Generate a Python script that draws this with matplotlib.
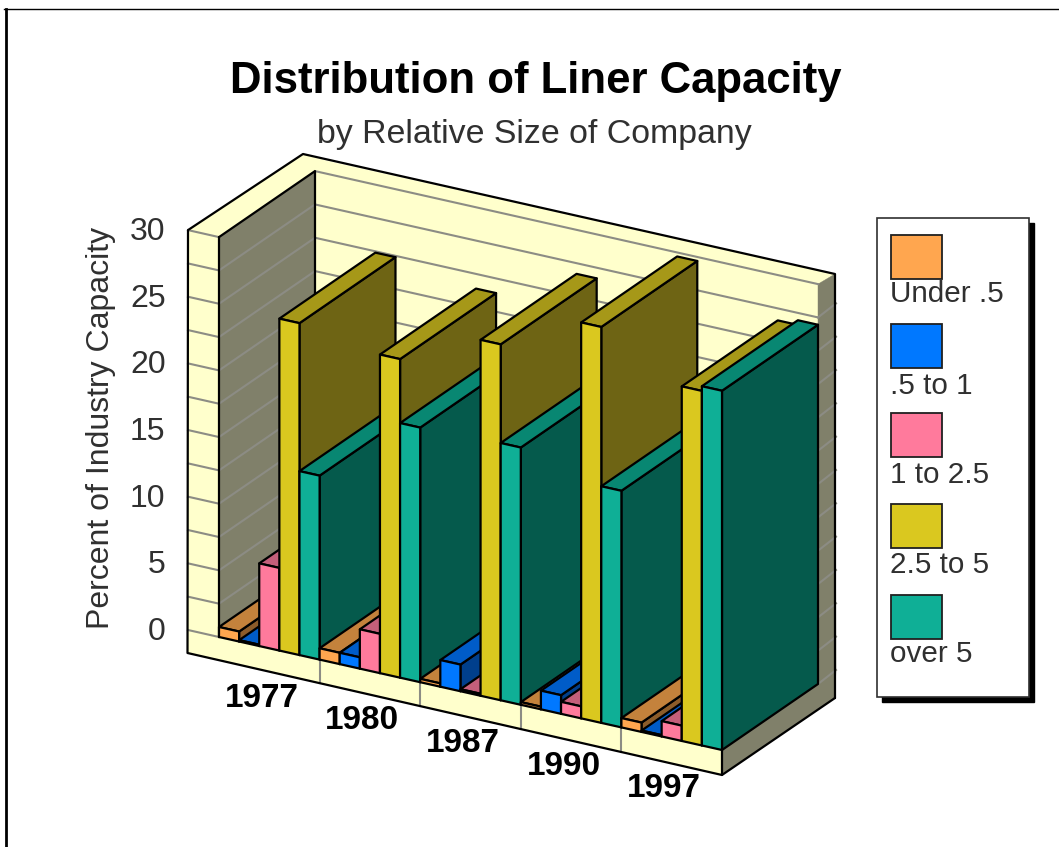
import matplotlib
matplotlib.use("Agg")
import matplotlib.pyplot as plt
from matplotlib.patches import Polygon, Rectangle

plt.rcParams["font.family"] = ["Liberation Sans", "DejaVu Sans"]

# chart data
years = ["1977", "1980", "1987", "1990", "1997"]
series_names = ["Under .5", ".5 to 1", "1 to 2.5", "2.5 to 5", "over 5"]
under_05 = [0.75, 0.85, 0.25, 0.2, 0.7]
from_05_to_1 = [0.1, 0.85, 2.0, 1.4, 0.1]
from_1_to_25 = [6.2, 2.95, 0.15, 0.9, 1.15]
from_25_to_5 = [24.9, 23.9, 26.7, 29.7, 26.6]
over_5 = [13.8, 19.1, 19.3, 17.75, 26.95]
y_ticks = [0, 5, 10, 15, 20, 25, 30]
y_grid_step = 2.5
y_max = 30

all_series = [under_05, from_05_to_1, from_1_to_25, from_25_to_5, over_5]
front_colors = ["#FFA64F", "#0078FF", "#FF7A9C", "#DAC81F", "#0FAF96"]
top_colors = ["#C4823C", "#005CC8", "#C45F7A", "#A69818", "#088772"]
side_colors = ["#8C5C2A", "#003F8C", "#8C4458", "#6E6414", "#055A4C"]

WALL = "#FFFFCC"
SHADE = "#80806A"
GRID = "#8C8C84"

# oblique projection of the box: one unit of x is one year group
ORIGIN = (219.0, 637.0)
EX = (100.6, 22.6)
ED = (96.0, -66.0)
PX_PER_UNIT = 13.33
SHIFT_LEFT = (-31.0, -7.0)
SHIFT_RIGHT = (18.0, -14.0)


def project(u, v, d=0.0):
    x = ORIGIN[0] + u * EX[0] + d * ED[0]
    y = ORIGIN[1] + u * EX[1] + d * ED[1] - v * PX_PER_UNIT
    return (x, y)


def offset(pt, delta):
    return (pt[0] + delta[0], pt[1] + delta[1])


fig = plt.figure(figsize=(10.59, 8.47), dpi=100)
ax = fig.add_axes([0, 0, 1, 1])
ax.set_xlim(0, 1059)
ax.set_ylim(847, 0)
ax.axis("off")


def face(points, color, lw=1.6, edge="black", z=2):
    ax.add_patch(Polygon(points, closed=True, facecolor=color, edgecolor=edge,
                         linewidth=lw, joinstyle="round", zorder=z))


def flat(points, color, z=2):
    ax.add_patch(Polygon(points, closed=True, facecolor=color, edgecolor=color,
                         linewidth=0.3, zorder=z))


def grid(p0, p1):
    ax.plot([p0[0], p1[0]], [p0[1], p1[1]], color=GRID, lw=1.5, zorder=2.5)


def outline(points, color="black", lw=1.6, z=2.6):
    ax.plot([p[0] for p in points], [p[1] for p in points], color=color, lw=lw,
            solid_capstyle="round", zorder=z)


# outer border, heavier on the left
ax.plot([5.5, 5.5], [847, 9], color="black", lw=2.0, zorder=1)
ax.plot([4, 1059], [9.5, 9.5], color="black", lw=1.0, zorder=1)

n = len(years)
u_end = float(n)

# walls and floor
floor_front_left = project(0, 0)
floor_back_left = project(0, 0, 1)
floor_back_right = project(u_end, 0, 1)
floor_front_right = project(u_end, 0)
top_front_left = project(0, y_max)
top_back_left = project(0, y_max, 1)
top_back_right = project(u_end, y_max, 1)

flat([floor_back_left, top_back_left, top_back_right, floor_back_right], WALL)
flat([floor_front_left, top_front_left, top_back_left, floor_back_left], SHADE)
flat([floor_front_left, floor_back_left, floor_back_right, floor_front_right], WALL)

# left wall, front face and top
outer_left = offset(floor_front_left, SHIFT_LEFT)
outer_left_top = offset(top_front_left, SHIFT_LEFT)
flat([outer_left, outer_left_top, top_front_left, floor_front_left], WALL)
outer_back = (303.0, 154.0)
corner_back = (327.0, 161.0)
flat([outer_left_top, outer_back, corner_back, top_back_left, top_front_left], WALL)

# back wall top
outer_right_top = (835.0, 274.0)
flat([top_back_left, corner_back, outer_right_top, top_back_right], WALL)

# right wall and floor edge
right_low = offset(floor_back_right, SHIFT_RIGHT)
flat([floor_back_right, top_back_right, outer_right_top, right_low], SHADE)
floor_low_left = (187.5, 653.0)
floor_low_right = (722.0, 775.0)
floor_low_back = (835.0, 698.0)
flat([outer_left, floor_front_left, floor_front_right, floor_low_right, floor_low_left], WALL)
flat([floor_front_right, floor_back_right, right_low, floor_low_back, floor_low_right], SHADE)

# gridlines on each wall
steps = int(y_max / y_grid_step)
for i in range(0, steps + 1):
    v = i * y_grid_step
    a = offset(project(0, v), SHIFT_LEFT)
    b = project(0, v)
    c = project(0, v, 1)
    e = project(u_end, v, 1)
    f = offset(e, SHIFT_RIGHT)
    grid(a, b)
    grid(c, e)
    if i < steps:
        grid(b, c)
        grid(e, f)

# dark outlines of the box
outline([floor_low_back, outer_right_top, outer_back, outer_left_top, floor_low_left,
         floor_low_right, floor_low_back])
outline([floor_low_right, floor_front_right])
outline([top_front_left, top_back_left, floor_back_left])
outline([top_front_left, floor_front_left, floor_back_left])

# dividers between year groups on the floor edge
for i in range(1, n):
    p = project(i, 0)
    t = (p[0] - floor_low_left[0]) / (floor_low_right[0] - floor_low_left[0])
    low = floor_low_left[1] + t * (floor_low_right[1] - floor_low_left[1])
    ax.plot([p[0], p[0]], [p[1], low], color=GRID, lw=1.5, zorder=2.5)

# bars, left to right so nearer faces cover farther ones
bar_width = 1.0 / len(all_series)
zo = 3
for g in range(n):
    for s, values in enumerate(all_series):
        val = values[g]
        u0 = g + s * bar_width
        u1 = u0 + bar_width
        face([project(u1, 0), project(u1, val), project(u1, val, 1), project(u1, 0, 1)],
             side_colors[s], z=zo)
        face([project(u0, val), project(u0, val, 1), project(u1, val, 1), project(u1, val)],
             top_colors[s], z=zo)
        face([project(u0, 0), project(u0, val), project(u1, val), project(u1, 0)],
             front_colors[s], z=zo)
        zo += 0.01

# axis labels
for t in y_ticks:
    p = offset(project(0, t), SHIFT_LEFT)
    ax.text(p[0] - 22.5, p[1] + 2, str(t), ha="right", va="center", fontsize=23, color="#303030")
ax.text(101, 428, "Percent of Industry Capacity", rotation=90, ha="center", va="center",
        fontsize=23, color="#303030")
for i, year in enumerate(years):
    p = project(i + 0.5, 0)
    ax.text(p[0] - 7.5, p[1] + 50, year, ha="center", va="center", fontsize=24,
            fontweight="bold", color="black")

# titles
ax.text(536, 81, "Distribution of Liner Capacity", ha="center", va="center", fontsize=31.5,
        fontweight="bold", color="black")
ax.text(534.5, 134, "by Relative Size of Company", ha="center", va="center", fontsize=24.4,
        color="#303030")

# legend
ax.add_patch(Rectangle((882, 223), 152, 479, facecolor="black", edgecolor="black", zorder=5))
ax.add_patch(Rectangle((877, 218), 152, 479, facecolor="white", edgecolor="#303030",
                       linewidth=1.2, zorder=5.1))
swatch_tops = [235, 324, 413, 504, 595]
label_ys = [294, 386, 475, 565, 654]
for name, color, top, ly in zip(series_names, front_colors, swatch_tops, label_ys):
    ax.add_patch(Rectangle((891, top), 51, 44, facecolor=color, edgecolor="#202020",
                           linewidth=1.3, zorder=5.2))
    ax.text(890, ly, name, ha="left", va="center", fontsize=21.3, color="#303030", zorder=5.3)

fig.savefig("out.png", dpi=100)
